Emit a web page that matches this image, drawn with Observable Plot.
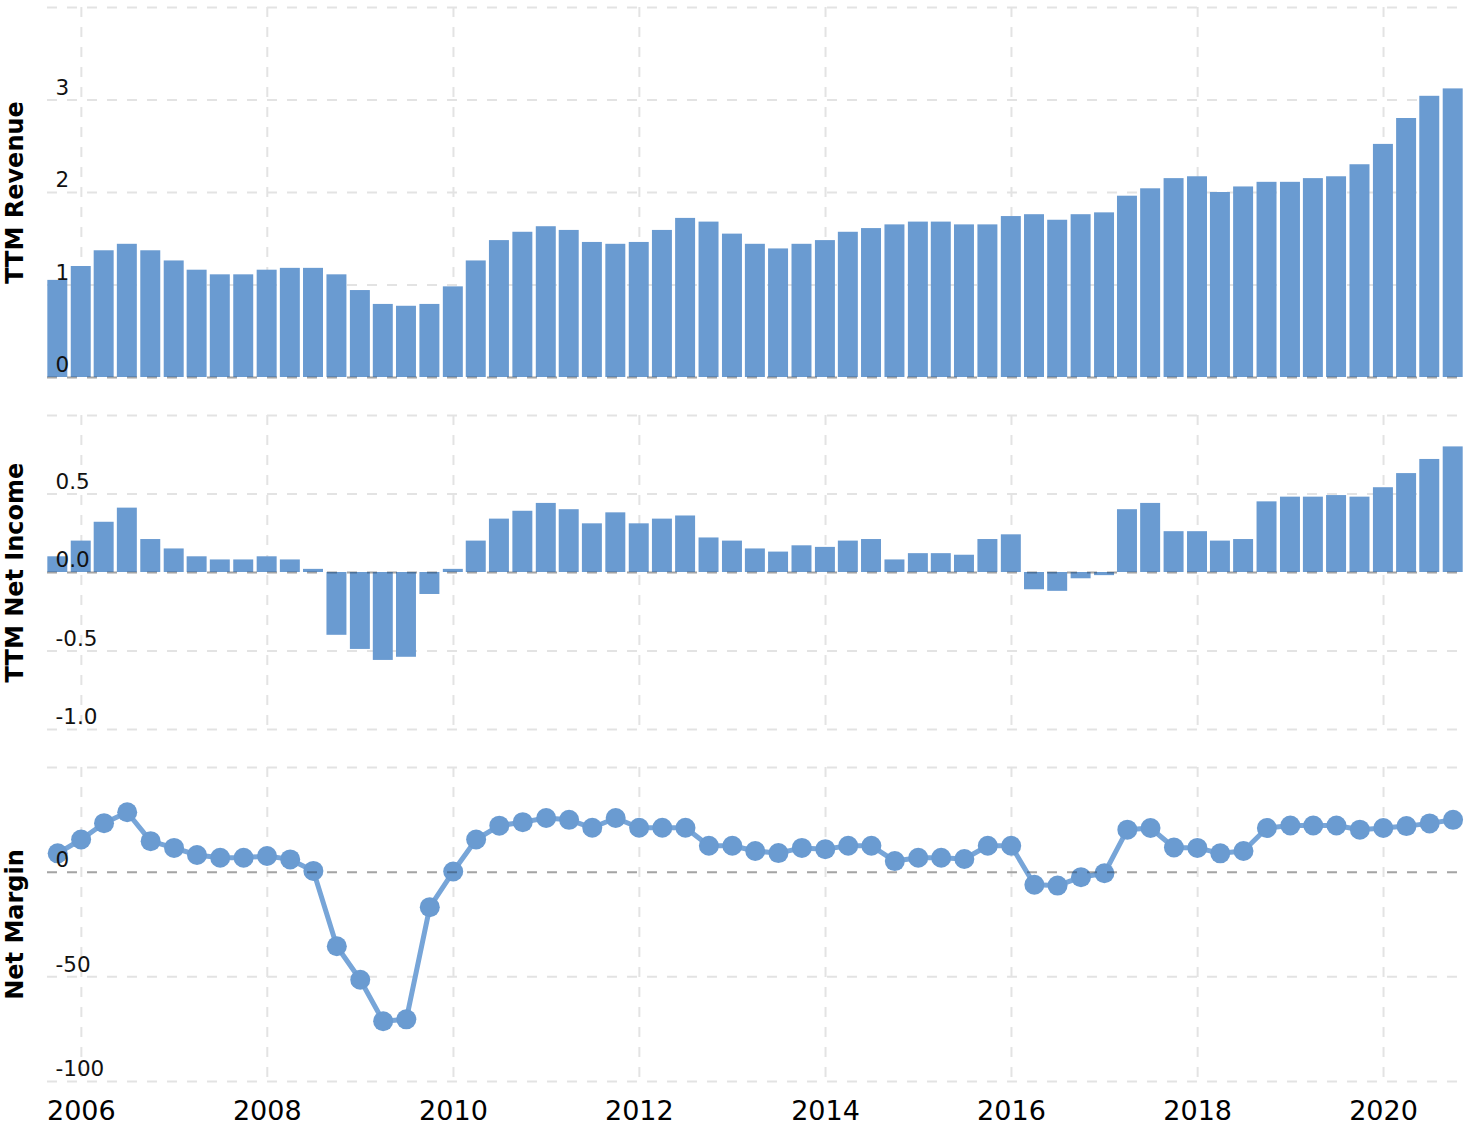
<!DOCTYPE html>
<html>
<head>
<meta charset="utf-8">
<script src="https://cdn.jsdelivr.net/npm/d3@7"></script>
<script src="https://cdn.jsdelivr.net/npm/@observablehq/plot@0.6"></script>
<style>
  html, body { margin: 0; padding: 0; background: #ffffff; }
  #chart svg { display: block; overflow: visible; }
</style>
</head>
<body>
<div id="chart"></div>
<script>
// ---------- Data ----------
const quarters = [
  "2005-09-30","2005-12-31",
  "2006-03-31","2006-06-30","2006-09-30","2006-12-31",
  "2007-03-31","2007-06-30","2007-09-30","2007-12-31",
  "2008-03-31","2008-06-30","2008-09-30","2008-12-31",
  "2009-03-31","2009-06-30","2009-09-30","2009-12-31",
  "2010-03-31","2010-06-30","2010-09-30","2010-12-31",
  "2011-03-31","2011-06-30","2011-09-30","2011-12-31",
  "2012-03-31","2012-06-30","2012-09-30","2012-12-31",
  "2013-03-31","2013-06-30","2013-09-30","2013-12-31",
  "2014-03-31","2014-06-30","2014-09-30","2014-12-31",
  "2015-03-31","2015-06-30","2015-09-30","2015-12-31",
  "2016-03-31","2016-06-30","2016-09-30","2016-12-31",
  "2017-03-31","2017-06-30","2017-09-30","2017-12-31",
  "2018-03-31","2018-06-30","2018-09-30","2018-12-31",
  "2019-03-31","2019-06-30","2019-09-30","2019-12-31",
  "2020-03-31","2020-06-30","2020-09-30"
];

// TTM Revenue
const revenue = [
  1.05, 1.20,
  1.37, 1.44, 1.37, 1.26,
  1.16, 1.11, 1.11, 1.16,
  1.18, 1.18, 1.11, 0.94,
  0.79, 0.77, 0.79, 0.98,
  1.26, 1.48, 1.57, 1.63,
  1.59, 1.46, 1.44, 1.46,
  1.59, 1.72, 1.68, 1.55,
  1.44, 1.39, 1.44, 1.48,
  1.57, 1.61, 1.65, 1.68,
  1.68, 1.65, 1.65, 1.74,
  1.76, 1.70, 1.76, 1.78,
  1.96, 2.04, 2.15, 2.17,
  2.00, 2.06, 2.11, 2.11,
  2.15, 2.17, 2.30, 2.52,
  2.80, 3.04, 3.12
];

// TTM Net Income
const netIncome = [
  0.10, 0.20,
  0.32, 0.41, 0.21, 0.15,
  0.10, 0.08, 0.08, 0.10,
  0.08, 0.02, -0.40, -0.49,
  -0.56, -0.54, -0.14, 0.02,
  0.20, 0.34, 0.39, 0.44,
  0.40, 0.31, 0.38, 0.31,
  0.34, 0.36, 0.22, 0.20,
  0.15, 0.13, 0.17, 0.16,
  0.20, 0.21, 0.08, 0.12,
  0.12, 0.11, 0.21, 0.24,
  -0.11, -0.12, -0.04, -0.02,
  0.40, 0.44, 0.26, 0.26,
  0.20, 0.21, 0.45, 0.48,
  0.48, 0.49, 0.48, 0.54,
  0.63, 0.72, 0.80
];

// Net Margin (%)
const netMargin = [
  9.0, 15.6,
  23.4, 28.6, 14.8, 11.6,
  8.2, 6.9, 6.9, 7.7,
  6.1, 0.6, -35.4, -51.4,
  -71.2, -70.3, -16.7, 0.3,
  15.6, 22.2, 23.9, 25.9,
  25.0, 21.2, 25.9, 21.2,
  21.2, 21.2, 12.6, 12.6,
  10.1, 9.1, 11.6, 11.0,
  12.6, 12.6, 5.3, 6.9,
  6.9, 6.3, 12.6, 12.6,
  -6.0, -6.4, -2.4, -0.5,
  20.3, 21.1, 11.8, 11.6,
  9.0, 10.1, 21.1, 22.3,
  22.3, 22.3, 20.3, 21.1,
  22.0, 23.3, 25.0
];

// Axis ticks
const yearTicks = ["2006","2008","2010","2012","2014","2016","2018","2020"];
const revenueGrid = [0, 1, 2, 3, 4];
const revenueLabels = [0, 1, 2, 3];
const incomeGrid = [-1, -0.5, 0, 0.5, 1];
const incomeLabels = [-1, -0.5, 0, 0.5];
const marginGrid = [-100, -50, 0, 50];
const marginLabels = [-100, -50, 0];

// ---------- Build tables ----------
const parse = d3.utcParse("%Y-%m-%d");
const dates = quarters.map(parse);
const rows = dates.map((date, i) => ({
  date,
  revenue: revenue[i],
  income: netIncome[i],
  margin: netMargin[i]
}));
const yearDates = yearTicks.map(y => d3.utcParse("%Y")(y));
const xDomain = [parse("2005-08-21"), parse("2020-11-06")];

// ---------- Styles ----------
const BLUE = "#6a9bd1";
const LINE = "#77a5d8";
const GRID = "#e3e3e3";
const FONT = "DejaVu Sans, Verdana, sans-serif";
const W = 1468;

const x1 = d => d3.utcDay.offset(d.date, -45);
const x2 = d => d3.utcDay.offset(d.date, 46);

function gridMarks(yGrid) {
  return [
    Plot.gridX(yearDates, {stroke: GRID, strokeOpacity: 1, strokeWidth: 2, strokeDasharray: "10,10"}),
    Plot.gridY(yGrid, {stroke: GRID, strokeOpacity: 1, strokeWidth: 2, strokeDasharray: "10,10"})
  ];
}
function labelMarks(labels, fmt, title) {
  return [
    Plot.ruleY([0], {stroke: "#000", strokeOpacity: 0.28, strokeWidth: 2, strokeDasharray: "10,10"}),
    Plot.text(labels, {
      y: d => d, text: fmt, frameAnchor: "left", textAnchor: "start",
      dx: 8, dy: -12, fontSize: 21.5, fill: "#111"
    }),
    Plot.text([title], {
      text: d => d, frameAnchor: "left", textAnchor: "middle", rotate: -90, dx: -32,
      fontSize: 24, fontWeight: "bold", fill: "#000"
    })
  ];
}

// Panel 1: TTM Revenue
const p1 = Plot.plot({
  width: W, height: 390,
  marginTop: 7, marginBottom: 13, marginLeft: 47, marginRight: 6,
  style: {fontFamily: FONT, color: "#000", background: "transparent"},
  x: {type: "utc", domain: xDomain, axis: null},
  y: {domain: [0, 4], axis: null},
  marks: [
    ...gridMarks(revenueGrid),
    Plot.rect(rows, {x1, x2, y1: 0, y2: "revenue", fill: BLUE, insetLeft: 1.6, insetRight: 1.6}),
    ...labelMarks(revenueLabels, d => String(d), "TTM Revenue")
  ]
});

// Panel 2: TTM Net Income
const p2 = Plot.plot({
  width: W, height: 360,
  marginTop: 25, marginBottom: 21, marginLeft: 47, marginRight: 6,
  style: {fontFamily: FONT, color: "#000", background: "transparent"},
  x: {type: "utc", domain: xDomain, axis: null},
  y: {domain: [-1, 1], axis: null},
  marks: [
    ...gridMarks(incomeGrid),
    Plot.rect(rows, {x1, x2, y1: 0, y2: "income", fill: BLUE, insetLeft: 1.6, insetRight: 1.6}),
    ...labelMarks(incomeLabels, d => d.toFixed(1), "TTM Net Income")
  ]
});

// Panel 3: Net Margin
const p3 = Plot.plot({
  width: W, height: 378,
  marginTop: 17, marginBottom: 47, marginLeft: 47, marginRight: 6,
  style: {fontFamily: FONT, color: "#000", background: "transparent"},
  x: {type: "utc", domain: xDomain},
  y: {domain: [-100, 50], axis: null},
  marks: [
    ...gridMarks(marginGrid),
    Plot.axisX(yearDates, {tickFormat: "%Y", tickSize: 0, tickPadding: 19, fontSize: 27, label: null}),
    Plot.line(rows, {x: "date", y: "margin", stroke: LINE, strokeWidth: 5}),
    Plot.dot(rows, {x: "date", y: "margin", r: 10, fill: BLUE, stroke: "none"}),
    ...labelMarks(marginLabels, d => String(d), "Net Margin")
  ]
});

const root = document.getElementById("chart");
root.append(p1, p2, p3);
</script>
</body>
</html>
